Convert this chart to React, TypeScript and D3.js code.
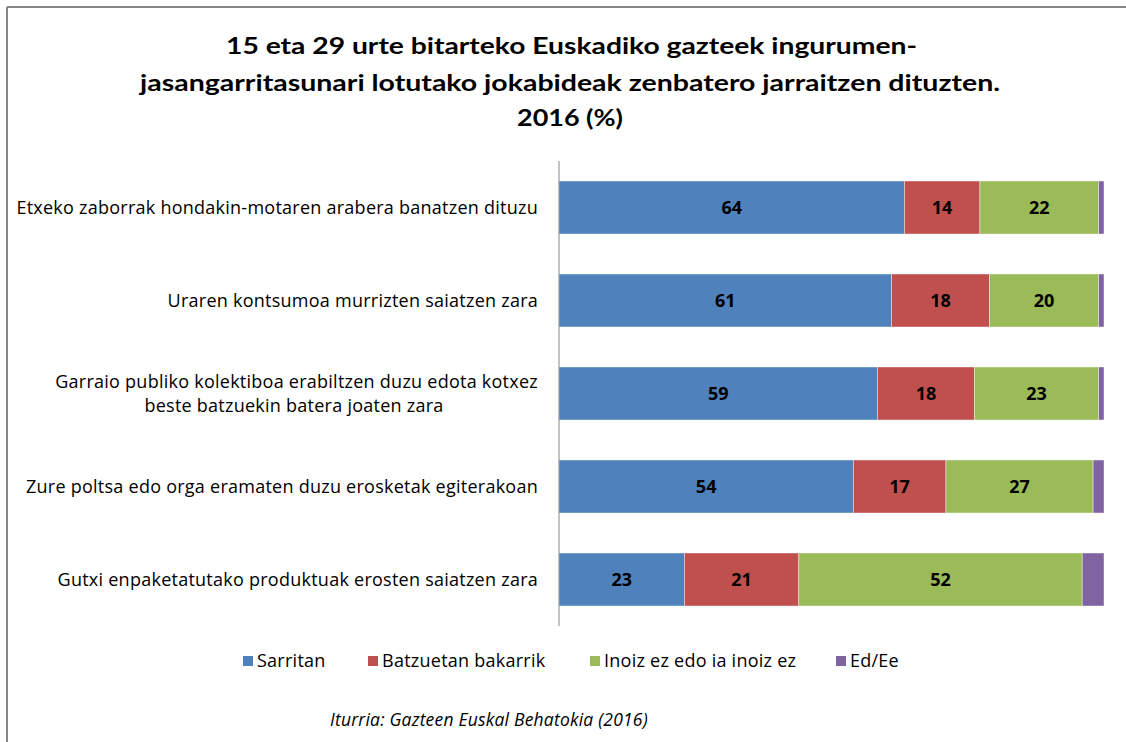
import React from "react";
import * as d3 from "d3";

const categories = [
  "Etxeko zaborrak hondakin-motaren arabera banatzen dituzu",
  "Uraren kontsumoa murrizten saiatzen zara",
  "Garraio publiko kolektiboa erabiltzen duzu edota kotxez|beste batzuekin batera joaten zara",
  "Zure poltsa edo orga eramaten duzu erosketak egiterakoan",
  "Gutxi enpaketatutako produktuak erosten saiatzen zara",
];
const seriesNames = ["Sarritan", "Batzuetan bakarrik", "Inoiz ez edo ia inoiz ez", "Ed/Ee"];
const sarritan = [64, 61, 59, 54, 23];
const batzuetan = [14, 18, 18, 17, 21];
const inoizEz = [22, 20, 23, 27, 52];
const edEe = [1, 1, 1, 2, 4];
const colors = ["#4F81BD", "#C0504D", "#9BBB59", "#8064A2"];
const titleLines = [
  "15 eta 29 urte bitarteko  Euskadiko gazteek  ingurumen-",
  "jasangarritasunari lotutako  jokabideak zenbatero jarraitzen dituzten.",
  "2016 (%)",
];
const sourceText = "Iturria: Gazteen Euskal Behatokia (2016)";

const FONT = "'Open Sans', sans-serif";
const TFONT = "Lato, 'Open Sans', sans-serif";

export default function App() {
  const W = 1126, H = 742;
  const x0 = 559, x1 = 1104, yTop = 161, yBot = 626;
  const rows = categories.map((c, i) => ({
    cat: c,
    [seriesNames[0]]: sarritan[i],
    [seriesNames[1]]: batzuetan[i],
    [seriesNames[2]]: inoizEz[i],
    [seriesNames[3]]: edEe[i],
  }));
  const stack = d3.stack<any>().keys(seriesNames).offset(d3.stackOffsetExpand);
  const stacked = stack(rows);
  const x = d3.scaleLinear().domain([0, 1]).range([x0, x1]);
  const y = d3.scaleBand().domain(categories).range([yTop, yBot]).paddingInner(0.43).paddingOuter(0.215);
  const raw = [sarritan, batzuetan, inoizEz, edEe];

  const titleX = [[226, 917], [140, 1000], [517, 623]];
  const titleY = [54, 91, 126];
  const legendSq = [243, 368, 590, 836];
  const LFS = 18;
  const LS = 0.25;

  return (
    <svg width={W} height={H} style={{ position: "absolute", left: 0, top: 0, background: "#fff" }}>
      <rect x={0} y={0} width={W} height={H} fill="#fff" />
      <line x1={7} y1={7} x2={W} y2={7} stroke="#868686" strokeWidth={2} />
      <line x1={7} y1={7} x2={7} y2={H} stroke="#868686" strokeWidth={2} />
      {titleLines.map((t, i) => (
        <text key={i} x={titleX[i][0]} y={titleY[i]} fontFamily={TFONT} fontWeight="bold" fontSize={23}
          textLength={titleX[i][1] - titleX[i][0]} lengthAdjust="spacingAndGlyphs" fill="#000">{t}</text>
      ))}
      {stacked.map((s, si) => (
        <g key={si}>
          {s.map((d, di) => (
            <rect key={di} x={x(d[0])} y={y(categories[di])} width={x(d[1]) - x(d[0])} height={y.bandwidth()}
              fill={colors[si]} stroke="#ffffff" strokeOpacity={0.6} strokeWidth={0.7} />
          ))}
        </g>
      ))}
      {stacked.slice(0, 3).map((s, si) => (
        <g key={"l" + si}>
          {s.map((d, di) => (
            <text key={di} x={(x(d[0]) + x(d[1])) / 2} y={(y(categories[di]) as number) + y.bandwidth() / 2}
              dy="0.36em" textAnchor="middle" fontFamily={FONT} fontWeight="bold" fontSize={18} fill="#000">
              {raw[si][di]}
            </text>
          ))}
        </g>
      ))}
      <line x1={x0} y1={yTop} x2={x0} y2={yBot} stroke="#868686" strokeWidth={1} />
      {categories.map((c, i) => {
        const lines = c.split("|");
        const cy = (y(c) as number) + y.bandwidth() / 2;
        if (lines.length === 1) {
          return (
            <text key={i} x={538} y={cy} dy="0.36em" textAnchor="end" fontFamily={FONT} fontSize={LFS} letterSpacing={LS} fill="#000">{c}</text>
          );
        }
        return (
          <g key={i}>
            <text x={538} y={cy - 12} dy="0.36em" textAnchor="end" fontFamily={FONT} fontSize={LFS} letterSpacing={LS} fill="#000">{lines[0]}</text>
            <text x={294} y={cy + 12} dy="0.36em" textAnchor="middle" fontFamily={FONT} fontSize={LFS} letterSpacing={LS} fill="#000">{lines[1]}</text>
          </g>
        );
      })}
      {seriesNames.map((n, i) => (
        <g key={n}>
          <rect x={legendSq[i]} y={656} width={10} height={10} fill={colors[i]} />
          <text x={legendSq[i] + 14} y={661} dy="0.36em" fontFamily={FONT} fontSize={LFS} letterSpacing={LS} fill="#000">{n}</text>
        </g>
      ))}
      <text x={330} y={720} dy="0.36em" fontFamily={FONT} fontStyle="italic" fontSize={17.5} letterSpacing={0.2} fill="#000">{sourceText}</text>
    </svg>
  );
}
